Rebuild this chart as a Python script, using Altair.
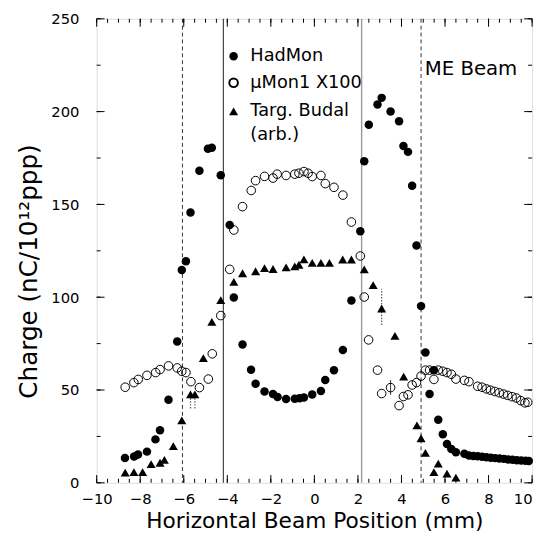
import altair as alt
import pandas as pd

# ---------------- data ----------------
had_x = [-8.70, -8.28, -8.10, -7.69, -7.30, -7.09, -6.70, -6.30, -6.09, -5.90,
         -5.69, -5.28, -4.89, -4.71, -4.30, -3.89, -3.70, -3.30, -2.91, -2.70,
         -2.29, -1.90, -1.69, -1.30, -0.90, -0.68, -0.48, -0.10, 0.30, 0.50,
         0.90, 1.31, 1.70, 2.11, 2.29, 2.50, 2.90, 3.09, 3.50, 3.89,
         4.09, 4.30, 4.49, 4.69, 4.90, 5.10, 5.29, 5.49, 5.69, 5.90,
         6.09, 6.29, 6.50, 6.89, 7.10, 7.30, 7.50, 7.70, 7.90, 8.10,
         8.30, 8.50, 8.70, 8.90, 9.10, 9.30, 9.50, 9.70, 9.85]
had_y = [13.4, 14.2, 15.2, 16.8, 23.4, 28.3, 44.7, 76.1, 114.6, 119.4,
         145.6, 168.1, 180.0, 180.5, 165.7, 138.9, 99.8, 74.5, 60.9, 53.4,
         49.2, 47.8, 46.2, 45.1, 45.3, 45.6, 46.0, 47.6, 49.5, 55.4,
         60.7, 71.5, 98.2, 135.5, 173.3, 192.9, 203.8, 207.4, 200.1, 194.8,
         181.5, 178.3, 160.1, 127.9, 95.2, 70.2, 47.8, 60.7, 34.0, 26.2,
         20.9, 18.2, 16.5, 15.6, 14.7, 14.5, 14.3, 14.0, 13.8, 13.5,
         13.3, 13.1, 12.9, 12.6, 12.4, 12.2, 12.0, 11.9, 11.7]

mu_x = [-8.69, -8.29, -8.09, -7.69, -7.29, -7.09, -6.70, -6.30, -6.09, -5.90,
        -5.67, -5.28, -4.87, -4.69, -4.30, -3.89, -3.70, -3.30, -2.90, -2.70,
        -2.29, -1.90, -1.71, -1.30, -0.90, -0.71, -0.48, -0.29, -0.10, 0.30,
        0.50, 0.90, 1.31, 1.70, 2.11, 2.29, 2.49, 2.90, 3.09, 3.50,
        3.89, 4.09, 4.30, 4.49, 4.69, 4.90, 5.10, 5.29, 5.49, 5.69,
        5.90, 6.09, 6.29, 6.50, 6.89, 7.10, 7.50, 7.70, 7.90, 8.09,
        8.29, 8.49, 8.69, 8.88, 9.08, 9.28, 9.48, 9.67, 9.80]
mu_y = [51.5, 54.0, 55.7, 57.9, 59.4, 61.0, 63.0, 61.9, 60.1, 59.4,
        54.5, 51.3, 55.9, 69.5, 90.1, 115.0, 136.2, 148.8, 157.5, 162.8,
        165.1, 164.2, 166.3, 165.6, 166.3, 166.8, 167.7, 166.8, 165.0, 165.6,
        161.2, 159.2, 155.0, 140.5, 122.2, 100.1, 77.0, 60.7, 48.1, 51.3,
        41.6, 46.5, 47.4, 52.7, 54.0, 57.5, 60.7, 60.7, 55.7, 60.7,
        60.1, 59.4, 58.5, 55.9, 55.2, 54.5, 52.0, 51.5, 50.6, 49.9,
        49.2, 48.5, 47.8, 47.1, 46.4, 45.7, 44.3, 43.1, 43.4]

tb_x = [-8.69, -8.29, -7.89, -7.50, -7.09, -6.89, -6.48, -6.09, -5.69, -5.49,
        -5.10, -4.71, -4.30, -3.70, -3.30, -2.70, -2.29, -1.90, -1.30, -0.90,
        -0.71, -0.48, -0.10, 0.30, 0.69, 1.30, 1.70, 2.29, 2.70, 3.09,
        3.70, 4.10, 4.71, 4.90, 5.10, 5.49, 5.69, 6.09, 6.50]
tb_y = [5.5, 5.8, 5.8, 10.1, 10.8, 12.4, 19.8, 33.6, 47.6, 47.6,
        67.2, 86.7, 98.4, 108.3, 112.9, 114.0, 115.7, 115.2, 116.1, 116.6,
        117.5, 120.4, 118.5, 118.5, 118.5, 120.3, 120.3, 115.0, 106.5, 93.9,
        79.2, 57.2, 30.9, 24.0, 16.1, 5.8, 10.3, 4.9, 2.8]

# error bars
err_solid_x = [3.50]
err_solid_lo = [47.4]
err_solid_hi = [55.4]
err_dot_x = [3.09, -5.69, -5.49]
err_dot_lo = [85.0, 40.0, 40.0]
err_dot_hi = [104.5, 47.0, 47.0]

# vertical reference lines
dashed_x = [-6.06, 4.90]
solid_x = [-4.18]
gray_x = [2.17]

# axis ticks / labels
x_major = [-10, -8, -6, -4, -2, 0, 2, 4, 6, 8, 10]
x_minor = [-10, -9.5, -9, -8.5, -8, -7.5, -7, -6.5, -6, -5.5, -5, -4.5, -4,
           -3.5, -3, -2.5, -2, -1.5, -1, -0.5, 0, 0.5, 1, 1.5, 2, 2.5, 3,
           3.5, 4, 4.5, 5, 5.5, 6, 6.5, 7, 7.5, 8, 8.5, 9, 9.5, 10]
y_major = [0, 50, 100, 150, 200, 250]
y_minor = [0, 25, 50, 75, 100, 125, 150, 175, 200, 225, 250]

FONT = "DejaVu Sans"
W, H = 442, 471
S_FILLED, S_OPEN, S_TRI = 74, 76, 84

had = pd.DataFrame({"x": had_x, "y": had_y})
mu = pd.DataFrame({"x": mu_x, "y": mu_y})
tb = pd.DataFrame({"x": tb_x, "y": tb_y})
es = pd.DataFrame({"x": err_solid_x, "lo": err_solid_lo, "hi": err_solid_hi})
ed = pd.DataFrame({"x": err_dot_x, "lo": err_dot_lo, "hi": err_dot_hi})

xs = alt.Scale(domain=[-10, 10], nice=False, zero=False)
ys = alt.Scale(domain=[0, 250], nice=False)

X = alt.X("x:Q", scale=xs, axis=None)
Y = alt.Y("y:Q", scale=ys, axis=None)

# axes: labels and titles only; ticks are drawn inward below
axes_layer = alt.Chart(had).mark_point(opacity=0).encode(
    x=alt.X("x:Q", scale=xs, axis=alt.Axis(
        orient="bottom", values=x_major, ticks=False, domain=False, grid=False,
        labelPadding=9, labelFontSize=15, labelFont=FONT, labelColor="black",
        labelFlush=False, labelOverlap=False, format="d",
        labelAlign=alt.condition("datum.value == 10", alt.value("right"),
                                 alt.value("center")),
        title="Horizontal Beam Position (mm)", titleFont=FONT, titleFontSize=22,
        titleFontWeight="normal", titleColor="black", titlePadding=4)),
    y=alt.Y("y:Q", scale=ys, axis=alt.Axis(
        orient="left", values=y_major, ticks=False, domain=False, grid=False,
        labelPadding=18, labelFontSize=15, labelFont=FONT, labelColor="black",
        labelFlush=False, labelOverlap=False,
        title="Charge (nC/10¹²ppp)", titleFont=FONT, titleFontSize=25,
        titleFontWeight="normal", titleColor="black",
        titleX=-56, titleY=256, titleAngle=270, titleAlign="center",
        titleBaseline="bottom")),
)

xmin_df = pd.DataFrame({"x": x_minor})
xmaj_df = pd.DataFrame({"x": x_major})
ymin_df = pd.DataFrame({"y": y_minor})
ymaj_df = pd.DataFrame({"y": y_major})


def xticks(df, size, ypix):
    return alt.Chart(df).mark_tick(orient="vertical", size=size, thickness=1,
                                   color="black", opacity=1).encode(
        x=X, y=alt.value(ypix))


def yticks(df, size, xpix):
    return alt.Chart(df).mark_tick(orient="horizontal", size=size, thickness=1,
                                   color="black", opacity=1).encode(
        y=Y, x=alt.value(xpix))


tick_layers = [
    xticks(xmin_df, 4, H - 2), xticks(xmaj_df, 8, H - 4),
    xticks(xmin_df, 4, 2), xticks(xmaj_df, 8, 4),
    yticks(ymin_df, 4, 2), yticks(ymaj_df, 8, 4),
    yticks(ymin_df, 4, W - 2), yticks(ymaj_df, 8, W - 4),
]

dashed = alt.Chart(pd.DataFrame({"x": dashed_x})).mark_rule(
    color="#333333", strokeWidth=1, strokeDash=[4, 3]).encode(x=X)
solid = alt.Chart(pd.DataFrame({"x": solid_x})).mark_rule(
    color="#444444", strokeWidth=1.2).encode(x=X)
gray = alt.Chart(pd.DataFrame({"x": gray_x})).mark_rule(
    color="#9a9a9a", strokeWidth=1.4).encode(x=X)

err_s = alt.Chart(es).mark_rule(color="#333333", strokeWidth=1).encode(
    x=X, y=alt.Y("lo:Q", scale=ys, axis=None), y2="hi:Q")
err_d = alt.Chart(ed).mark_rule(color="#555555", strokeWidth=1.2,
                                strokeDash=[1.5, 1.5]).encode(
    x=X, y=alt.Y("lo:Q", scale=ys, axis=None), y2="hi:Q")

had_pts = alt.Chart(had).mark_point(shape="circle", filled=True, size=S_FILLED,
                                    color="black", opacity=1).encode(x=X, y=Y)
mu_pts = alt.Chart(mu).mark_point(shape="circle", filled=False, size=S_OPEN,
                                  color="black", strokeWidth=1,
                                  opacity=1).encode(x=X, y=Y)
tb_pts = alt.Chart(tb).mark_point(shape="triangle-up", filled=True, size=S_TRI,
                                  color="black", opacity=1).encode(x=X, y=Y)

# legend (drawn inside the plot)
leg_sym_x = 139
leg_txt_x = 156
leg_rows = [38, 65, 94]
leg_df = pd.DataFrame({"k": [0]})
leg_had = alt.Chart(leg_df).mark_point(shape="circle", filled=True, size=S_FILLED,
                                       color="black", opacity=1).encode(
    x=alt.value(leg_sym_x), y=alt.value(leg_rows[0]))
leg_mu = alt.Chart(leg_df).mark_point(shape="circle", filled=False, size=S_OPEN,
                                      color="black", opacity=1).encode(
    x=alt.value(leg_sym_x), y=alt.value(leg_rows[1]))
leg_tb = alt.Chart(leg_df).mark_point(shape="triangle-up", filled=True, size=S_TRI,
                                      color="black", opacity=1).encode(
    x=alt.value(leg_sym_x), y=alt.value(leg_rows[2]))


def label(txt, y, size=18, x=leg_txt_x):
    return alt.Chart(leg_df).mark_text(text=txt, align="left", baseline="middle",
                                       font=FONT, fontSize=size,
                                       color="black").encode(
        x=alt.value(x), y=alt.value(y))


leg_texts = [
    label("HadMon", leg_rows[0]),
    label("μMon1 X100", leg_rows[1]),
    label("Targ. Budal", leg_rows[2]),
    label("(arb.)", leg_rows[2] + 24),
    label("ME Beam", 51, size=20, x=333),
]

chart = alt.layer(
    axes_layer, *tick_layers, dashed, solid, gray, err_s, err_d,
    mu_pts, tb_pts, had_pts, leg_had, leg_mu, leg_tb, *leg_texts
).resolve_axis(x="independent", y="independent").properties(
    width=W, height=H,
    autosize=alt.AutoSizeParams(type="none"),
    padding={"left": 90, "top": 7, "right": 7, "bottom": 48},
).configure_view(stroke="black", strokeWidth=1).configure(
    font=FONT, background="white")

chart.save("out.html", embed_options={"renderer": "svg", "actions": False})
